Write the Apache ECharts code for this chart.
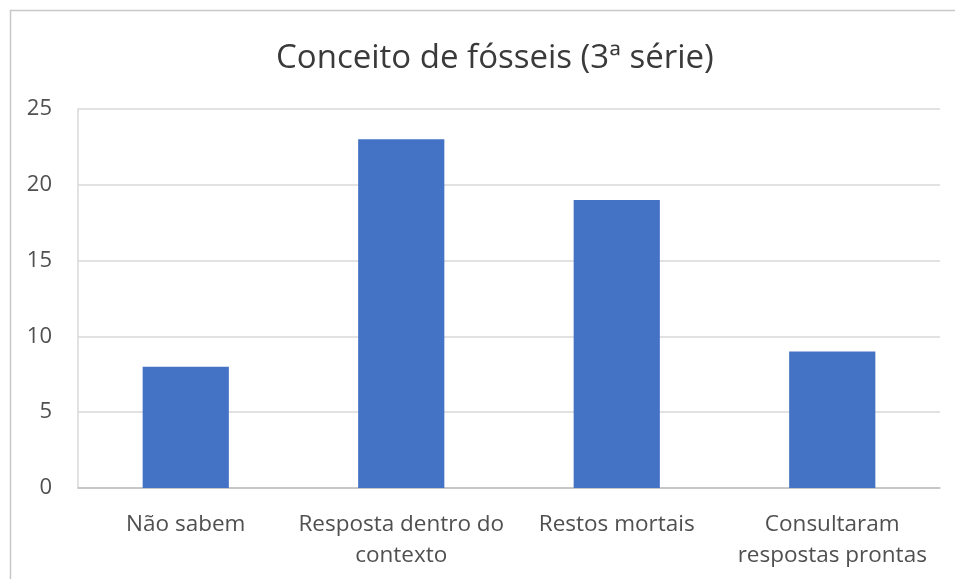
<!DOCTYPE html>
<html>
<head>
<meta charset="utf-8">
<script src="https://cdn.jsdelivr.net/npm/echarts@6/dist/echarts.min.js"></script>
<style>
  html, body { margin: 0; padding: 0; background: #ffffff; }
  #chart { width: 955px; height: 579px; }
</style>
</head>
<body>
<div id="chart"></div>
<script>
// Respostas dos alunos sobre o conceito de fósseis
const categories = [
  'Não sabem',
  'Resposta dentro do\ncontexto',
  'Restos mortais',
  'Consultaram\nrespostas prontas'
];
const values = [8, 23, 19, 9];
const yTicks = [0, 5, 10, 15, 20, 25];

const FONT = '"Open Sans", sans-serif';

const chart = echarts.init(document.getElementById('chart'), null, { renderer: 'canvas' });

chart.setOption({
  backgroundColor: '#ffffff',
  animation: false,
  graphic: [{
    type: 'rect',
    shape: { x: 10.5, y: 10.5, width: 1000, height: 1000 },
    style: { fill: 'none', stroke: '#c8c8c8', lineWidth: 1.5 },
    silent: true
  }],
  title: {
    text: 'Conceito de fósseis (3ª série)',
    left: 271,
    top: 37,
    textStyle: { fontFamily: FONT, fontSize: 33, fontWeight: 'normal', color: '#3a3a3a' }
  },
  grid: { left: 78, right: 15, top: 109, bottom: 91, containLabel: false },
  xAxis: {
    type: 'category',
    data: categories,
    axisTick: { show: false },
    axisLine: { lineStyle: { color: '#bfbfbf', width: 1.5 } },
    axisLabel: {
      fontFamily: FONT, fontSize: 22.5, color: '#505050',
      margin: 21, lineHeight: 31, interval: 0
    }
  },
  yAxis: {
    type: 'value',
    min: yTicks[0],
    max: yTicks[yTicks.length - 1],
    interval: yTicks[1] - yTicks[0],
    axisLine: { show: true, lineStyle: { color: '#d9d9d9', width: 1.5 } },
    axisTick: { show: false },
    splitLine: { lineStyle: { color: '#d9d9d9', width: 1.5 } },
    axisLabel: { fontFamily: FONT, fontSize: 22, color: '#505050', margin: 26 }
  },
  series: [{
    type: 'bar',
    data: values,
    barWidth: '40%',
    itemStyle: { color: '#4472c4' }
  }]
});
</script>
</body>
</html>
